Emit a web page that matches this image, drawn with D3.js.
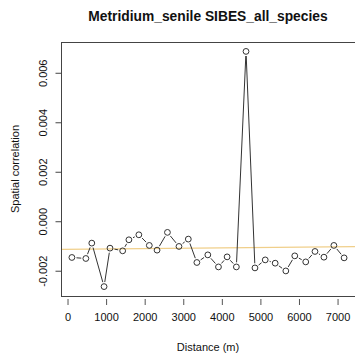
<!DOCTYPE html>
<html><head><meta charset="utf-8">
<script src="https://cdn.jsdelivr.net/npm/d3@7"></script>
<style>body{margin:0;background:#fff}svg{display:block}text{font-family:"Liberation Sans",Arial,sans-serif;fill:#111}</style>
</head><body>
<svg id="c" width="355" height="358"></svg>
<script>
const distances = [113,475,629,947,1101,1429,1591,1849,2120,2321,2590,2889,3131,3353,3637,3913,4137,4377,4627,4859,5125,5383,5659,5891,6175,6415,6647,6905,7170];
const correlations = [-0.001444,-0.001485,-0.000864,-0.002621,-0.001067,-0.001176,-0.000730,-0.000527,-0.000957,-0.001148,-0.000430,-0.000998,-0.000702,-0.001647,-0.001339,-0.001826,-0.001420,-0.001826,0.006884,-0.001866,-0.001542,-0.001675,-0.001988,-0.001379,-0.001623,-0.001201,-0.001432,-0.000957,-0.001460];
const refLine = [-0.00112,-0.001006];
const xTicks = [0,1000,2000,3000,4000,5000,6000,7000];
const yTicks = [-0.002,0.000,0.002,0.004,0.006];
const title = "Metridium_senile SIBES_all_species";

const svg = d3.select("#c");
const L=61, R=355, T=42, B=296;
const pad = (e)=>{const d=e[1]-e[0];return [e[0]-0.04*d,e[1]+0.04*d];};
const x = d3.scaleLinear().domain(pad(d3.extent(distances))).range([L,R]);
const y = d3.scaleLinear().domain(pad(d3.extent(correlations))).range([B,T]);

// box
svg.append("rect").attr("x",L+0.5).attr("y",T+0.5).attr("width",R-L+5).attr("height",B-T)
  .attr("fill","none").attr("stroke","#444").attr("stroke-width",1);

// reference line
svg.append("line").attr("x1",L+1).attr("x2",R).attr("y1",y(refLine[0])).attr("y2",y(refLine[1]))
  .attr("stroke","#f0cf8a").attr("stroke-width",1.2);

// y axis
const yfmt = (d)=>d3.format(".3f")(d).replace("\u2212","-");
const ya = svg.append("g").attr("transform",`translate(${L+0.5},0)`)
  .call(d3.axisLeft(y).tickValues(yTicks).tickSize(6).tickFormat(yfmt));
ya.select(".domain").remove();
ya.selectAll(".tick").attr("transform",null);
ya.selectAll(".tick line").attr("stroke","#444").each(function(d){d3.select(this).attr("y1",y(d)).attr("y2",y(d));});
ya.selectAll(".tick text").attr("x",null).attr("dy","0.32em").attr("y",0).attr("text-anchor","middle")
  .attr("transform",function(d){return `translate(-18.5,${y(d)}) rotate(-90)`;})
  .style("font-size","11px");

// x axis
const xa = svg.append("g").attr("transform",`translate(0,${B+3})`)
  .call(d3.axisBottom(x).tickValues(xTicks).tickSize(6).tickFormat(d3.format("d")));
xa.select(".domain").remove();
xa.selectAll("line").attr("stroke","#555");
xa.selectAll("text").attr("y",18).attr("dy","0.32em").style("font-size","11px");

// connecting lines with gaps (type = "b")
const gap = 4.6;
for(let i=0;i<distances.length-1;i++){
  const x1=x(distances[i]), y1=y(correlations[i]), x2=x(distances[i+1]), y2=y(correlations[i+1]);
  const dx=x2-x1, dy=y2-y1, len=Math.hypot(dx,dy);
  if(len>2*gap){
    const ux=dx/len, uy=dy/len;
    svg.append("line").attr("x1",x1+ux*gap).attr("y1",y1+uy*gap).attr("x2",x2-ux*gap).attr("y2",y2-uy*gap)
      .attr("stroke","#333").attr("stroke-width",1);
  }
}
// points
svg.append("g").selectAll("circle").data(distances).join("circle")
  .attr("cx",(d)=>x(d)).attr("cy",(d,i)=>y(correlations[i])).attr("r",2.9)
  .attr("fill","none").attr("stroke","#333").attr("stroke-width",1);

// labels
svg.append("text").attr("x",208).attr("y",21).attr("text-anchor","middle")
  .style("font-size","13.8px").style("font-weight","bold").text(title);
svg.append("text").attr("x",208).attr("y",351).attr("text-anchor","middle")
  .style("font-size","11px").text("Distance (m)");
svg.append("text").attr("transform",`translate(19,${(T+B)/2}) rotate(-90)`).attr("text-anchor","middle")
  .style("font-size","11px").text("Spatial correlation");
</script>
</body></html>
